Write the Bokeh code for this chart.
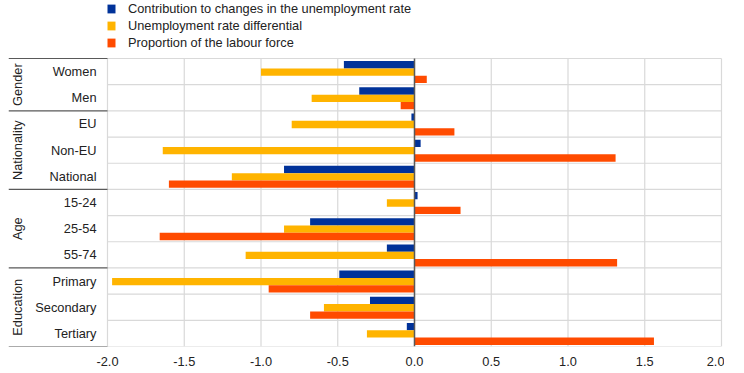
import numpy as np
from bokeh.plotting import figure
from bokeh.models import Range1d, FixedTicker, NumeralTickFormatter, Legend, LegendItem
from bokeh.core.properties import value
from bokeh.embed import file_html
from bokeh.resources import INLINE

# ---------------- data ----------------
categories = ["Women", "Men", "EU", "Non-EU", "National", "15-24", "25-54", "55-74",
              "Primary", "Secondary", "Tertiary"]
groups = ["Gender", "Nationality", "Age", "Education"]
group_sizes = [2, 3, 3, 3]
contribution = [-0.46, -0.36, -0.02, 0.04, -0.85, 0.02, -0.68, -0.18, -0.49, -0.29, -0.05]
differential = [-1.00, -0.67, -0.80, -1.64, -1.19, -0.18, -0.85, -1.10, -1.97, -0.59, -0.31]
proportion = [0.08, -0.09, 0.26, 1.31, -1.60, 0.30, -1.66, 1.32, -0.95, -0.68, 1.56]
series_names = ["Contribution to changes in the unemployment rate",
                "Unemployment rate differential",
                "Proportion of the labour force"]
x_ticks = [-2.0, -1.5, -1.0, -0.5, 0.0, 0.5, 1.0, 1.5, 2.0]

# ---------------- layout ----------------
FONT = "Liberation Sans"
FS = "12.8px"
BLUE, YELLOW, ORANGE = "#003299", "#FFB400", "#FF4B00"
GRID = "#d9d9d9"
DARK = "#595959"
TXT = "#222222"

px_per_unit = 153.5
label_px = 99
frame_w = 716
frame_h = 346
plot_top_px = 58
n = len(categories)
row_px = 288 / n

x_start = x_ticks[0] - label_px / px_per_unit
x_end = x_start + frame_w / px_per_unit
y_top = n - frame_h / row_px

p = figure(frame_width=frame_w, frame_height=frame_h,
           x_range=Range1d(x_start, x_end), y_range=Range1d(start=n, end=y_top),
           output_backend="svg", toolbar_location=None,
           min_border_left=8, min_border_top=0, min_border_right=0, min_border_bottom=0,
           y_axis_location=None)
p.outline_line_color = None
p.xgrid.visible = False
p.ygrid.visible = False
p.background_fill_color = "white"
p.border_fill_color = "white"

centers = np.arange(n) + 0.5
bounds = np.concatenate([[0], np.cumsum(group_sizes)])
gcenters = (bounds[:-1] + bounds[1:]) / 2

# grid lines (plot area only)
p.segment(x0=[x_ticks[0]] * (n + 1), x1=[x_ticks[-1]] * (n + 1),
          y0=list(range(n + 1)), y1=list(range(n + 1)), line_color=GRID, line_width=1.2)
p.segment(x0=x_ticks, x1=x_ticks, y0=[0] * len(x_ticks), y1=[n] * len(x_ticks),
          line_color=GRID, line_width=1.2)

# bars
bh = 0.28
items = []
for k, (vals, col) in enumerate(zip([contribution, differential, proportion],
                                    [BLUE, YELLOW, ORANGE])):
    r = p.hbar(y=centers + (k - 1) * bh + 0.02, left=0, right=vals, height=bh,
               fill_color=col, line_color=None)
    items.append(LegendItem(label=series_names[k], renderers=[r]))

# zero line
p.segment(x0=[0], x1=[0], y0=[0], y1=[n], line_color=DARK, line_width=1.5)

# group separators in label area
p.segment(x0=[x_start] * len(bounds), x1=[x_ticks[0]] * len(bounds),
          y0=list(bounds), y1=list(bounds), line_color=DARK, line_width=1.2)

# category labels
p.text(x=[x_ticks[0]] * n, y=centers, text=categories, x_offset=-11,
       text_align="right", text_baseline="middle", text_font=value(FONT),
       text_font_size=FS, text_color=TXT)
# group labels
p.text(x=[x_ticks[0]] * len(groups), y=gcenters, text=groups, x_offset=-90,
       angle=np.pi / 2, text_align="center", text_baseline="middle",
       text_font=value(FONT), text_font_size=FS, text_color=TXT)

# x axis
p.xaxis.ticker = FixedTicker(ticks=x_ticks)
p.xaxis.formatter = NumeralTickFormatter(format="0.0")
p.xaxis.axis_line_color = None
p.xaxis.major_tick_line_color = None
p.xaxis.minor_tick_line_color = None
p.xaxis.major_tick_out = 0
p.xaxis.major_label_standoff = 10
p.xaxis.major_label_text_font = FONT
p.xaxis.major_label_text_font_size = FS
p.xaxis.major_label_text_color = TXT

# legend
legend = Legend(items=items, location=(98, frame_h - 50), orientation="vertical",
                glyph_width=10, glyph_height=11, label_standoff=12, spacing=2,
                padding=0, margin=0, label_height=10,
                label_text_font=FONT, label_text_font_size=FS, label_text_color=TXT,
                border_line_color=None, background_fill_alpha=0)
p.add_layout(legend, "center")

open("out.html", "w").write(file_html(p, INLINE))
